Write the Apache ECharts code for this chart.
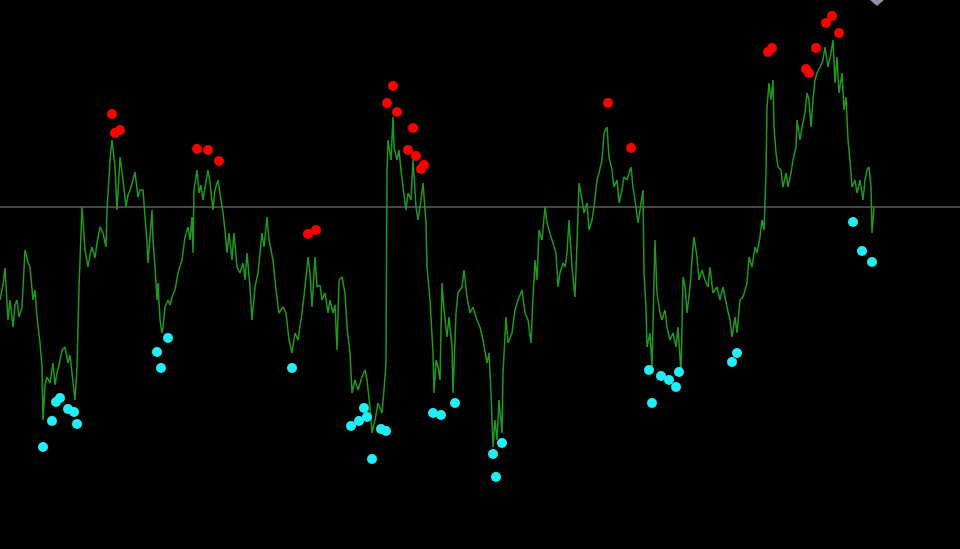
<!DOCTYPE html>
<html>
<head>
<meta charset="utf-8">
<script src="https://cdn.jsdelivr.net/npm/echarts@6/dist/echarts.min.js"></script>
<style>html,body{margin:0;padding:0;background:#000;}#chart{width:960px;height:549px;}</style>
</head>
<body>
<div id="chart"></div>
<script>
// price trace: [time, level] (level measured downward on an inverted axis)
const priceSeries = [
[0,300],[3,285],[5,268],[8,320],[10,300],[13,327],[15,305],[17,300],[19,317],[22,307],[25,250],[28,262],[30,267],[33,300],[35,290],[37,317],[40,343],[42,367],[43,420],[45,385],[47,377],[50,383],[53,363],[55,385],[57,373],[60,360],[62,350],[65,347],[68,363],[70,355],[72,373],[75,400],[77,367],[79,287],[82,207],[85,250],[88,267],[90,255],[92,247],[95,258],[97,243],[100,227],[103,233],[106,247],[107,210],[110,160],[112,140],[115,167],[117,210],[120,157],[123,180],[126,207],[128,195],[130,190],[133,180],[135,172],[138,197],[140,190],[143,190],[147,243],[148,263],
[152,210],[153,240],[155,267],[157,300],[158,283],[160,320],[162,333],[163,327],[165,307],[168,300],[170,305],[172,297],[175,290],[178,273],[182,260],[185,237],[188,227],[190,240],[192,217],[193,253],[194,190],[197,170],[199,193],[201,185],[203,200],[205,187],[208,170],[210,183],[213,210],[215,190],[218,180],[221,200],[223,213],[225,230],[227,253],[229,233],[232,260],[234,233],[237,267],[240,273],[243,263],[245,280],[247,253],[250,287],[252,320],[255,287],[258,273],[262,233],[264,247],[267,217],[269,240],[273,260],[276,290],[279,313],[283,307],[286,313],
[289,340],[292,353],[295,333],[298,340],[302,313],[305,287],[308,257],[310,273],[312,307],[315,257],[317,287],[320,285],[322,300],[325,293],[328,313],[330,300],[333,313],[335,305],[337,350],[339,280],[342,277],[345,293],[347,327],[350,353],[352,393],[355,380],[358,390],[362,377],[365,370],[367,380],[370,407],[372,433],[375,420],[378,403],[382,413],[384,390],[386,363],[387,173],[388,140],[391,160],[393,117],[394,147],[397,160],[399,150],[401,170],[403,187],[406,210],[408,193],[411,200],[413,160],[416,207],[418,220],[421,200],[423,183],[426,223],[427,267],[430,300],[433,353],[434,393],[436,360],[438,367],[440,380],[442,283],[444,310],[447,337],[449,317],[452,347],[453,393],[456,313],[458,293],[462,287],[464,270],[467,297],[470,313],[473,307],[477,320],[480,327],[483,340],[487,363],[489,353],[491,393],[493,447],[495,420],[497,440],[499,400],[502,433],[503,373],[506,317],[508,343],[512,333],[515,310],[518,300],[522,290],[525,313],[528,320],[531,343],[533,297],[535,260],[537,280],[539,230],[542,240],[545,207],[547,223],[551,237],[553,243],[556,253],[558,287],[560,273],[563,263],[565,267],[567,253],[569,220],[572,267],[575,297],[577,243],[579,183],[582,200],[584,213],[587,203],[589,230],[592,220],[594,207],[597,180],[599,173],[602,160],[604,133],[607,127],[609,157],[612,170],[614,187],[617,180],[619,203],[622,190],[624,177],[627,180],[629,173],[631,167],[633,187],[636,207],[638,223],[641,203],[643,190],[644,273],[646,307],[647,347],[650,333],[652,367],[655,240],[657,293],[660,313],[662,320],[665,310],[667,327],[670,340],[673,333],[676,347],[678,327],[681,373],[683,277],[685,287],[687,313],[690,287],[693,247],[694,237],[697,257],[699,280],[702,270],[705,280],[708,287],[710,267],[713,293],[717,287],[720,300],[723,287],[727,307],[730,320],[732,337],[735,317],[737,333],[740,300],[743,297],[747,283],[749,257],[752,267],[755,247],[757,253],[760,237],[762,220],[764,230],[766,173],[767,107],[769,83],[771,100],[773,80],[774,127],[776,153],[778,167],[781,170],[783,187],[786,173],[788,187],[791,173],[793,160],[796,147],[797,120],[800,140],[802,127],[805,113],[807,93],[809,100],[811,127],[813,100],[815,80],[817,73],[820,67],[823,60],[825,47],[828,67],[831,53],[833,40],[835,83],[837,57],[839,93],[842,73],[844,110],[846,97],[848,140],[850,160],[852,187],[855,180],[857,193],[860,180],[863,200],[865,180],[867,170],[869,167],[871,187],[872,233],[874,207]
];
const peakSignals = [
[112,114],[115,133],[120,130],[197,149],[208,150],[219,161],[308,234],[316,230],[387,103],[393,86],[397,112],[413,128],[408,150],[416,156],[421,169],[424,165],[608,103],[631,148],[768,52],[772,48],[806,69],[809,73],[816,48],[826,23],[832,16],[839,33]
];
const troughSignals = [
[43,447],[52,421],[56,402],[60,398],[68,409],[74,412],[77,424],[157,352],[161,368],[168,338],[292,368],[351,426],[359,421],[364,408],[367,417],[372,459],[381,429],[386,431],[433,413],[441,415],[455,403],[493,454],[496,477],[502,443],[649,370],[652,403],[661,376],[669,380],[676,387],[679,372],[732,362],[737,353],[853,222],[862,251],[872,262]
];
const refLevel = 207;
const marker = [[877,0]];

const chart = echarts.init(document.getElementById('chart'), null, {renderer:'canvas'});
chart.setOption({
  backgroundColor:'#000000',
  animation:false,
  grid:{left:0,right:0,top:0,bottom:0},
  xAxis:{type:'value',min:0,max:960,show:false},
  yAxis:{type:'value',min:0,max:549,inverse:true,show:false},
  series:[
    {type:'line',data:[[0,refLevel],[960,refLevel]],symbol:'none',silent:true,
     lineStyle:{color:'#8c8c8c',width:1},z:1},
    {type:'line',data:priceSeries,symbol:'none',lineStyle:{color:'#1e9a1e',width:1.5},z:2},
    {type:'scatter',data:peakSignals,symbol:'circle',symbolSize:10,itemStyle:{color:'#ff0000',opacity:1},z:3},
    {type:'scatter',data:troughSignals,symbol:'circle',symbolSize:10,itemStyle:{color:'#22eef6',opacity:1},z:3},
    {type:'scatter',data:marker,symbol:'diamond',symbolSize:[14,12],clip:false,itemStyle:{color:'#8e949c',opacity:1},z:3}
  ]
});
</script>
</body>
</html>
